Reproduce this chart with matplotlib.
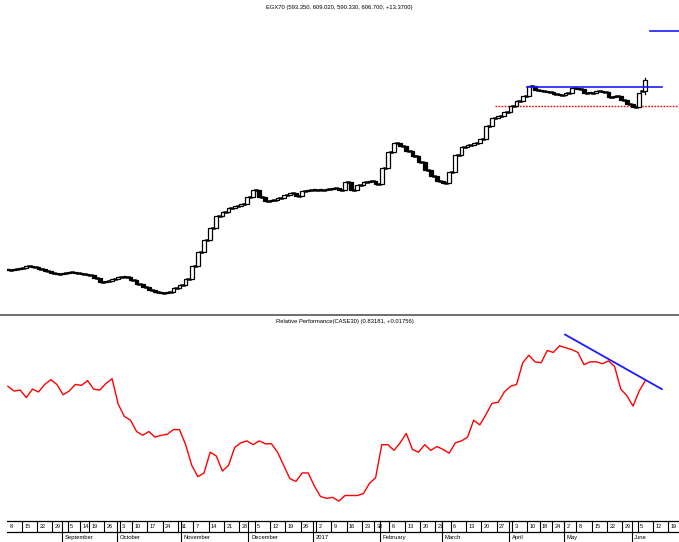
import matplotlib
matplotlib.use("Agg")
import matplotlib.pyplot as plt
import numpy as np
import pandas as pd
from matplotlib.patches import Rectangle

plt.rcParams['font.family'] = ['Liberation Sans Narrow', 'Liberation Sans', 'DejaVu Sans']

# ---------------- data ----------------
title_top = "EGX70 (593.350, 609.020, 590.330, 606.700, +13.3700)"
title_bottom = "Relative Performance(CASE30) (0.83181, +0.01756)"

holidays = ['2016-09-11', '2016-09-12', '2016-09-13', '2016-10-06', '2017-01-25',
            '2017-04-16', '2017-04-17', '2017-04-25', '2017-05-01']
start_date = '2016-08-08'
end_date = '2017-06-22'

# closes, one every two trading days
price = [378.7, 379.9, 381.1, 383.5, 382.3, 379.9, 377.5, 375.1, 373.9, 375.1,
         376.3, 375.1, 373.9, 372.7, 369.1, 364.3, 365.5, 367.9, 370.3, 370.3,
         366.7, 361.9, 358.3, 354.7, 352.3, 351.1, 352.3, 357.1, 360.7, 367.9,
         383.5, 400.3, 414.7, 429.1, 443.5, 448.3, 453.1, 455.5, 457.9, 466.3,
         474.7, 466.3, 461.5, 462.7, 465.1, 468.7, 471.1, 467.5, 473.5, 474.7,
         474.7, 474.7, 475.9, 477.1, 474.7, 484.3, 474.7, 480.7, 484.3, 485.5,
         481.9, 501.1, 520.3, 531.1, 527.5, 521.5, 515.5, 508.3, 498.7, 491.5,
         485.5, 483.1, 496.3, 516.7, 526.3, 528.7, 531.1, 535.9, 551.5, 561.1,
         563.5, 568.3, 575.5, 581.5, 587.5, 599.5, 594.7, 593.5, 592.3, 589.9,
         588.7, 591.1, 597.1, 595.9, 591.1, 591.1, 593.5, 592.3, 586.3, 587.5,
         582.7, 577.9, 574.3, 591.1, 606.7]
last_ohlc = [593.35, 609.02, 590.33, 606.70]

rel_perf = [0.8258, 0.8208, 0.8218, 0.8138, 0.8228, 0.8198, 0.8278, 0.8328, 0.8278, 0.8168,
            0.8208, 0.8278, 0.8268, 0.8318, 0.8228, 0.8218, 0.8288, 0.8338, 0.8068, 0.7938,
            0.7898, 0.7778, 0.7738, 0.7778, 0.7718, 0.7738, 0.7748, 0.7798, 0.7798, 0.7638,
            0.7418, 0.7298, 0.7338, 0.7558, 0.7518, 0.7358, 0.7418, 0.7608, 0.7658, 0.7678,
            0.7638, 0.7678, 0.7648, 0.7648, 0.7558, 0.7418, 0.7278, 0.7248, 0.7338, 0.7338,
            0.7198, 0.7088, 0.7068, 0.7078, 0.7038, 0.7098, 0.7098, 0.7098, 0.7118, 0.7228,
            0.7288, 0.7638, 0.7638, 0.7578, 0.7658, 0.7758, 0.7588, 0.7558, 0.7638, 0.7578,
            0.7618, 0.7588, 0.7548, 0.7658, 0.7678, 0.7718, 0.7898, 0.7848, 0.7958, 0.8078,
            0.8088, 0.8198, 0.8258, 0.8278, 0.8508, 0.8588, 0.8518, 0.8508, 0.8638, 0.8618,
            0.8688, 0.8668, 0.8648, 0.8618, 0.8488, 0.8518, 0.8518, 0.8498, 0.8528, 0.8468,
            0.8228, 0.8158, 0.8048, 0.8208, 0.8318]

resistance_level = 597.9
support_level = 575.5
top_mark_level = 665.5
trend_rp = [0.8808, 0.8228]

month_names = {9: "September", 10: "October", 11: "November", 12: "December",
               1: "2017", 2: "February", 3: "March", 4: "April", 5: "May", 6: "June"}

# ---------------- calendar ----------------
days = pd.bdate_range(start_date, end_date, freq='C',
                      weekmask='Sun Mon Tue Wed Thu', holidays=holidays)
step = 2
xs = np.arange(len(price)) * step

# ---------------- figure ----------------
W, H = 679, 542
fig = plt.figure(figsize=(W / 100, H / 100), dpi=100)
left = 7 / W
XL = (-0.3, 219.0)

ax1 = fig.add_axes([left, (H - 315) / H, 1 - left, 307 / H])
ax2 = fig.add_axes([left, 22 / H, 1 - left, 193 / H])
ax3 = fig.add_axes([left, 0, 1 - left, 22 / H])
for ax in (ax1, ax2, ax3):
    ax.set_xlim(*XL)
    ax.set_xticks([])
    ax.set_yticks([])
    for s in ax.spines.values():
        s.set_visible(False)

# top panel: candles (open = previous close)
ax1.set_ylim(324.7, 693.1)
bw = 1.2
for i, c in enumerate(price):
    if i == len(price) - 1:
        o, h, l, c = last_ohlc
        ax1.plot([xs[i], xs[i]], [l, h], color='black', lw=0.9, zorder=3)
    else:
        o = price[i - 1] if i > 0 else c
    lo, hi = min(o, c), max(o, c)
    hgt = max(hi - lo, 0.9)
    up = c >= o
    ax1.add_patch(Rectangle((xs[i] - bw / 2, lo), bw, hgt,
                            facecolor='white' if up else 'black',
                            edgecolor='black', lw=0.9, zorder=4))
    if i > 0:
        ax1.plot([xs[i - 1] + bw / 2, xs[i] - bw / 2], [o, o], color='black', lw=1.8, zorder=3)

ax1.plot([169.4, 213.4], [resistance_level] * 2, color='#1a1aff', lw=1.2, zorder=5)
ax1.plot([159.0, XL[1]], [support_level] * 2, color='red', lw=1.0,
         linestyle=(0, (1.2, 1.0)), zorder=2)
ax1.plot([209.5, XL[1]], [top_mark_level] * 2, color='#1a1aff', lw=1.2)

# bottom panel: relative performance
ax2.set_ylim(0.6838, 0.8888)
ax2.plot(xs, rel_perf, color='red', lw=1.0)
ax2.plot([181.8, 213.4], trend_rp, color='#1a1aff', lw=1.3)

# separator
fig.add_artist(plt.Line2D([0, 1], [(H - 315) / H] * 2, color='#555555', lw=1.2))

fig.text(0.5, 1 - 8 / H, title_top, ha='center', va='center', fontsize=4.2)
fig.text(345 / W, 1 - 321 / H, title_bottom, ha='center', va='center', fontsize=4.2)

# date strip
ax3.set_ylim(0, 22)
ax3.axhline(21, color='black', lw=0.9)
ax3.axhline(10, color='black', lw=0.9)
dser = pd.Series(days)
wk = dser - pd.to_timedelta(dser.dt.weekday, unit='D')
first_of_week = dser.groupby(wk).head(1).index
for idx in first_of_week:
    x = idx - 0.5
    if x > XL[0]:
        ax3.plot([x, x], [10, 21], color='black', lw=0.8)
    ax3.text(max(x, XL[0]) + 0.8, 15.5, str(days[idx].day), fontsize=4.0,
             va='center', ha='left', clip_on=True)
mon = dser.dt.to_period('M')
first_of_month = dser.groupby(mon).head(1).index
for idx in first_of_month:
    m = days[idx].month
    if m not in month_names or idx == 0:
        continue
    x = idx - 0.5
    ax3.plot([x, x], [0, 21], color='black', lw=0.8)
    ax3.text(x + 0.9, 4.5, month_names[m], fontsize=4.2, va='center', ha='left')

fig.savefig("out.png", dpi=100)
